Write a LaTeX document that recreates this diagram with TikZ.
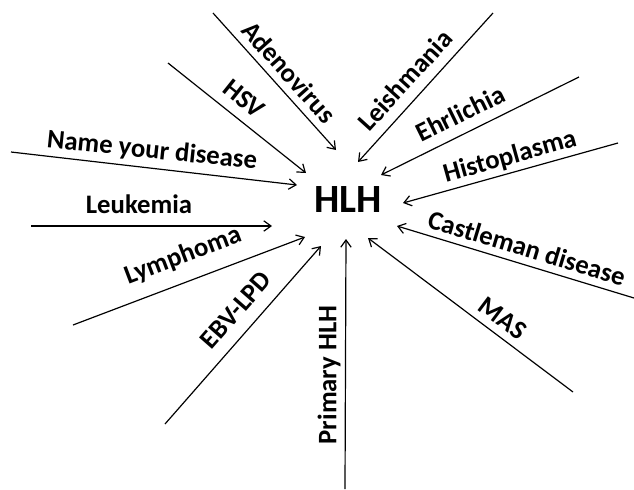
\documentclass[tikz,border=0pt]{standalone}
\usepackage{fontspec}
\setmainfont{Carlito}
\usetikzlibrary{arrows.meta}

\tikzset{
  cause/.style={font=\bfseries\fontsize{19}{22}\selectfont, inner sep=1pt},
  feed/.style={-{Straight Barb[length=1.8mm, width=2.6mm]}, line width=0.85pt},
}

\begin{document}
\begin{tikzpicture}[x=0.025cm, y=-0.025cm]
  \useasboundingbox (0,0) rectangle (634,489);

  % Centre
  \node[font=\bfseries\fontsize{28.5}{32}\selectfont, inner sep=1pt] (hlh) at (348,200) {HLH};

  % Name your disease
  \coordinate (nameyour) at (11,152);
  \coordinate (nameyourtip) at (297,185);
  \node[cause, rotate=-6] (nameyourlbl) at (152,151) {Name your disease};
  \draw[feed] (nameyour) -- (nameyourtip);

  % Leukemia
  \coordinate (leukemia) at (31,226);
  \coordinate (leukemiatip) at (272,226);
  \node[cause] (leukemialbl) at (139,204) {Leukemia};
  \draw[feed] (leukemia) -- (leukemiatip);

  % HSV
  \coordinate (hsv) at (168,63);
  \coordinate (hsvtip) at (306,173);
  \node[cause, rotate=-38.6] (hsvlbl) at (244,99) {HSV};
  \draw[feed] (hsv) -- (hsvtip);

  % Adenovirus
  \coordinate (adeno) at (213,13);
  \coordinate (adenotip) at (336,150);
  \node[cause, rotate=-48.3] (adenolbl) at (289,72) {Adenovirus};
  \draw[feed] (adeno) -- (adenotip);

  % Leishmania
  \coordinate (leish) at (493,13);
  \coordinate (leishtip) at (358,162);
  \node[cause, rotate=47.8] (leishlbl) at (405,80) {Leishmania};
  \draw[feed] (leish) -- (leishtip);

  % Ehrlichia
  \coordinate (ehrl) at (579,77);
  \coordinate (ehrltip) at (381,175);
  \node[cause, rotate=26.1] (ehrllbl) at (460,113) {Ehrlichia};
  \draw[feed] (ehrl) -- (ehrltip);

  % Histoplasma
  \coordinate (histo) at (618,143);
  \coordinate (histotip) at (403,203);
  \node[cause, rotate=15.6] (histolbl) at (510,157) {Histoplasma};
  \draw[feed] (histo) -- (histotip);

  % Castleman disease
  \coordinate (castle) at (634,298);
  \coordinate (castletip) at (397,226);
  \node[cause, rotate=-16.9] (castlelbl) at (527,248) {Castleman disease};
  \draw[feed] (castle) -- (castletip);

  % MAS
  \coordinate (mas) at (573,392);
  \coordinate (mastip) at (368,238);
  \node[cause, rotate=-36.9] (maslbl) at (503,318) {MAS};
  \draw[feed] (mas) -- (mastip);

  % Primary HLH
  \coordinate (primary) at (345,489);
  \coordinate (primarytip) at (346,239);
  \node[cause, rotate=90] (primarylbl) at (329,375) {Primary HLH};
  \draw[feed] (primary) -- (primarytip);

  % EBV-LPD
  \coordinate (ebv) at (165,424);
  \coordinate (ebvtip) at (321,246);
  \node[cause, rotate=48.8] (ebvlbl) at (236,310) {EBV-LPD};
  \draw[feed] (ebv) -- (ebvtip);

  % Lymphoma
  \coordinate (lymph) at (73,325);
  \coordinate (lymphtip) at (305,237);
  \node[cause, rotate=20.8] (lymphlbl) at (183,256) {Lymphoma};
  \draw[feed] (lymph) -- (lymphtip);
\end{tikzpicture}
\end{document}
